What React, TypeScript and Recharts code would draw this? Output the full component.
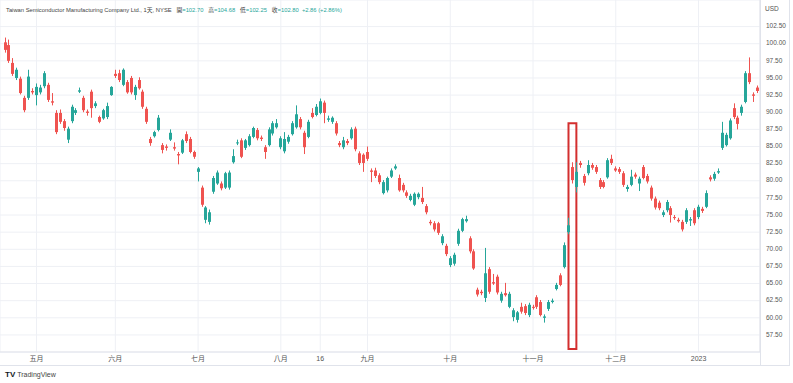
import React from "react";
import { ComposedChart, Bar, XAxis, YAxis, CartesianGrid, ReferenceArea } from "recharts";

// daily candles, TSM NYSE, approx. Apr 2022 - Jan 2023
const OPEN = [
  100.2, 99.8, 97.2, 95.0, 94.9, 92.1, 92.1, 93.1, 92.5, 92.9,
  93.8, 94.0, 91.6, 89.9, 89.9, 88.7, 86.0, 88.7, 89.9, 93.0,
  92.1, 90.1, 93.0, 90.9, 89.3, 89.1, 89.3, 92.5, 95.6, 95.7,
  94.0, 94.4, 95.0, 92.5, 94.7, 93.0, 90.5, 86.1, 86.5, 87.4,
  85.2, 85.0, 86.0, 84.9, 83.9, 84.1, 86.8, 86.1, 84.2, 81.3,
  79.0, 74.3, 74.0, 78.4, 79.6, 79.6, 79.0, 79.0, 82.7, 85.5,
  85.9, 84.8, 85.2, 86.4, 87.4, 86.3, 84.9, 85.2, 86.9, 87.8,
  84.9, 84.3, 85.7, 86.8, 87.8, 89.0, 87.0, 86.4, 89.9, 89.6,
  89.9, 91.4, 88.9, 88.6, 88.4, 85.5, 84.9, 85.8, 86.2, 87.6,
  84.0, 83.8, 84.2, 81.5, 81.5, 80.8, 78.2, 78.6, 80.6, 81.8,
  80.4, 79.4, 78.3, 77.2, 76.5, 77.6, 77.5, 76.3, 74.0, 73.8,
  73.8, 70.9, 70.5, 67.7, 67.9, 70.8, 72.7, 74.1, 71.6, 69.7,
  64.1, 63.8, 62.9, 67.1, 65.2, 66.0, 62.5, 63.6, 61.6, 60.1,
  59.7, 61.6, 61.7, 60.4, 61.6, 63.0, 62.3, 60.0, 61.3, 62.3,
  64.2, 66.2, 67.4, 72.5, 82.0, 79.1, 82.6, 80.7, 81.1, 82.3,
  82.0, 80.1, 79.8, 80.5, 83.2, 81.8, 81.7, 81.1, 78.8, 79.4,
  80.9, 79.6, 82.0, 80.7, 79.0, 77.4, 76.8, 75.0, 75.7, 76.0,
  74.7, 74.3, 74.0, 74.0, 74.2, 75.7, 74.7, 75.9, 76.2, 80.5,
  80.3, 81.2, 84.8, 85.2, 86.2, 90.6, 89.2, 89.9, 91.5, 95.7,
  92.6, 93.6,
];

const HIGH = [
  100.9, 100.6, 97.9, 96.5, 95.2, 92.4, 96.2, 93.5, 94.2, 94.0,
  96.0, 94.3, 92.8, 90.3, 90.4, 89.0, 87.9, 91.1, 90.6, 93.6,
  92.4, 90.4, 93.3, 91.6, 89.5, 90.5, 91.4, 93.8, 96.2, 96.2,
  96.4, 94.7, 95.3, 94.0, 95.1, 93.3, 90.8, 86.4, 87.3, 89.6,
  85.5, 85.3, 87.5, 85.6, 84.2, 86.1, 87.2, 86.4, 84.4, 82.0,
  79.3, 76.3, 75.8, 80.7, 81.5, 79.9, 81.3, 81.5, 84.6, 86.0,
  86.2, 86.1, 86.8, 87.9, 87.7, 86.6, 85.2, 87.8, 88.7, 89.0,
  86.5, 87.1, 86.7, 88.7, 91.0, 89.3, 87.3, 88.9, 90.6, 91.2,
  92.0, 91.7, 89.5, 89.4, 88.7, 85.8, 86.4, 86.1, 87.8, 87.9,
  84.3, 84.0, 85.0, 81.8, 81.9, 81.1, 80.1, 80.6, 81.8, 82.4,
  80.9, 79.7, 78.6, 78.1, 78.3, 78.3, 79.1, 76.6, 74.3, 74.1,
  74.0, 72.2, 70.8, 69.0, 69.5, 73.0, 74.6, 74.9, 71.9, 70.0,
  64.4, 64.1, 70.2, 67.4, 66.4, 66.3, 63.8, 65.1, 63.8, 61.4,
  61.0, 62.2, 62.0, 62.2, 61.9, 63.3, 62.6, 60.5, 62.6, 62.8,
  65.1, 66.5, 71.0, 74.6, 82.7, 82.7, 82.9, 81.0, 83.0, 82.6,
  82.3, 80.4, 80.1, 83.3, 83.8, 82.1, 82.0, 81.4, 79.4, 81.6,
  81.2, 80.6, 82.3, 81.0, 79.3, 77.7, 77.1, 75.7, 77.2, 76.3,
  75.0, 74.6, 74.3, 76.0, 74.7, 76.0, 76.5, 76.2, 78.6, 80.8,
  81.3, 81.8, 88.6, 87.0, 89.1, 91.3, 89.5, 91.1, 96.0, 98.0,
  92.9, 93.9,
];

const LOW = [
  98.7, 97.2, 95.3, 94.7, 92.6, 90.0, 91.8, 92.6, 91.0, 92.6,
  93.5, 91.5, 91.0, 86.8, 88.3, 87.3, 85.5, 88.4, 89.6, 92.8,
  90.0, 89.5, 89.2, 90.6, 88.4, 88.9, 89.0, 92.4, 95.0, 94.4,
  93.8, 92.7, 92.6, 91.8, 93.3, 90.5, 88.3, 85.1, 86.3, 87.2,
  84.0, 84.4, 85.8, 84.4, 82.4, 83.9, 85.5, 84.0, 83.2, 79.9,
  76.2, 73.8, 73.6, 78.1, 79.4, 78.6, 78.8, 78.7, 82.5, 85.2,
  83.3, 84.5, 85.0, 86.2, 85.9, 85.8, 83.2, 85.0, 86.6, 87.6,
  84.6, 84.0, 85.4, 86.6, 87.6, 87.5, 83.9, 86.2, 89.1, 89.4,
  89.7, 88.4, 88.6, 88.3, 86.6, 84.9, 84.6, 85.2, 86.0, 84.3,
  82.3, 81.3, 82.9, 79.8, 80.4, 79.5, 78.0, 78.3, 80.4, 81.6,
  78.4, 78.3, 77.5, 77.0, 76.3, 77.3, 76.6, 75.1, 73.5, 72.6,
  72.1, 70.6, 69.0, 67.4, 67.6, 70.5, 72.5, 73.9, 69.4, 67.0,
  63.1, 63.3, 62.3, 63.5, 64.8, 63.4, 62.2, 63.1, 61.4, 59.5,
  59.3, 60.6, 60.4, 60.1, 61.2, 61.3, 60.2, 59.3, 61.0, 62.1,
  64.0, 64.6, 67.2, 72.2, 79.6, 78.3, 81.9, 79.3, 80.8, 81.6,
  81.0, 78.8, 78.9, 80.3, 82.3, 81.3, 81.0, 79.1, 78.4, 79.2,
  80.3, 78.5, 80.2, 79.6, 77.1, 75.8, 75.7, 74.7, 75.4, 73.9,
  74.3, 73.9, 72.6, 73.7, 73.4, 73.5, 74.4, 75.3, 76.0, 79.9,
  80.0, 81.0, 84.5, 85.0, 86.0, 89.0, 87.5, 89.5, 91.3, 94.1,
  91.5, 92.8,
];

const CLOSE = [
  99.1, 97.5, 95.6, 96.2, 92.8, 90.3, 95.2, 92.9, 93.7, 93.6,
  95.7, 91.8, 91.4, 87.1, 88.6, 87.7, 87.6, 90.8, 90.3, 93.2,
  90.3, 89.9, 90.6, 91.3, 88.6, 90.3, 90.9, 93.7, 95.3, 94.7,
  96.2, 92.9, 92.9, 93.7, 93.5, 90.8, 88.6, 85.5, 87.1, 89.2,
  84.5, 84.8, 87.0, 84.7, 83.7, 85.9, 85.8, 84.2, 83.5, 81.8,
  76.5, 76.1, 75.4, 80.4, 81.2, 78.9, 81.1, 81.2, 83.6, 85.6,
  83.5, 85.9, 86.5, 87.7, 86.2, 86.1, 84.2, 87.5, 88.4, 88.4,
  86.2, 86.1, 86.4, 88.4, 89.7, 87.8, 84.9, 88.6, 89.3, 90.8,
  91.6, 89.9, 89.1, 89.2, 86.9, 85.2, 85.9, 85.5, 87.5, 84.6,
  82.6, 82.6, 83.2, 81.3, 80.7, 79.8, 79.8, 80.4, 81.5, 82.1,
  78.6, 78.6, 77.8, 77.8, 78.1, 78.1, 76.9, 75.4, 73.8, 72.9,
  72.4, 71.9, 69.3, 68.7, 69.2, 72.7, 74.4, 74.4, 69.7, 67.2,
  63.4, 63.6, 66.5, 63.8, 65.0, 63.7, 63.5, 63.3, 63.5, 61.1,
  60.8, 60.9, 60.7, 61.9, 61.5, 61.6, 60.4, 60.2, 62.3, 62.5,
  64.8, 64.8, 70.6, 73.5, 80.1, 81.3, 82.3, 79.7, 82.3, 81.9,
  81.3, 79.1, 79.1, 83.0, 82.6, 81.5, 81.3, 79.4, 79.1, 80.6,
  80.6, 80.3, 80.4, 79.9, 77.4, 76.1, 76.0, 75.4, 76.9, 75.0,
  74.6, 74.1, 72.9, 75.7, 74.4, 73.8, 76.2, 75.6, 78.2, 80.2,
  81.0, 81.4, 87.0, 86.7, 88.8, 89.3, 88.3, 90.8, 95.7, 94.4,
  92.4, 93.1,
];

// x-axis labels sit on the first session of each month (bar index)
const MONTH_TICKS = [8, 28, 49, 70, 80, 92, 113, 134, 155, 176];
const MONTH_LABELS = ["五月", "六月", "七月", "八月", "16", "九月", "十月", "十一月", "十二月", "2023"];

const PRICE_TICKS = [
  57.5, 60, 62.5, 65, 67.5, 70, 72.5, 75, 77.5, 80,
  82.5, 85, 87.5, 90, 92.5, 95, 97.5, 100, 102.5,
];

const HIGHLIGHT_BAR = 144; // 2022-11-15 gap up

const UP = "#26a69a";
const DOWN = "#ef5350";
const GRID = "#eef0f5";
const BORDER = "#e0e3eb";
const FONT = "'Liberation Sans', 'Noto Sans CJK TC', sans-serif";

const data = OPEN.map((open, i) => ({
  i,
  open,
  high: HIGH[i],
  low: LOW[i],
  close: CLOSE[i],
}));

const Candle = (props: any) => {
  const { x, y, width, height, payload } = props;
  if (!payload || height == null) return null;
  const { open, close, high, low } = payload;
  const color = close >= open ? UP : DOWN;
  const ratio = height / (high - low);
  const cx = Math.round(x + width / 2) + 0.5;
  const top = y + (high - Math.max(open, close)) * ratio;
  const bottom = y + (high - Math.min(open, close)) * ratio;
  return (
    <g>
      <line x1={cx} x2={cx} y1={y} y2={y + height} stroke={color} strokeWidth={1} />
      <rect x={cx - 1.5} y={top} width={3} height={Math.max(1, bottom - top)} fill={color} />
    </g>
  );
};

const MonthTick = (props: any) => {
  const { x, payload } = props;
  const idx = MONTH_TICKS.indexOf(payload.value);
  return (
    <text x={x} y={359} textAnchor="middle" dominantBaseline="middle" fontSize={7} fill="#555" fontFamily={FONT}>
      {MONTH_LABELS[idx]}
    </text>
  );
};

const PriceTick = (props: any) => {
  const { y, payload } = props;
  return (
    <text x={766} y={y} textAnchor="start" dominantBaseline="middle" fontSize={6.5} fill="#555" fontFamily={FONT}>
      {Number(payload.value).toFixed(2)}
    </text>
  );
};

export default function App() {
  return (
    <div
      style={{
        position: "absolute",
        left: 0,
        top: 0,
        width: 793,
        height: 383,
        background: "#fff",
        fontFamily: FONT,
        overflow: "hidden",
      }}
    >
      <ComposedChart width={793} height={365} data={data} margin={{ top: 0, right: 0, bottom: 0, left: 0 }}>
        <CartesianGrid stroke={GRID} />
        <XAxis
          type="number"
          dataKey="i"
          domain={[-1.27, 191.6]}
          allowDataOverflow
          ticks={MONTH_TICKS}
          interval={0}
          tick={<MonthTick />}
          tickLine={false}
          axisLine={{ stroke: BORDER }}
          height={13}
        />
        <YAxis
          orientation="right"
          domain={[55.01, 106.38]}
          allowDataOverflow
          ticks={PRICE_TICKS}
          interval={0}
          tick={<PriceTick />}
          tickLine={false}
          axisLine={{ stroke: BORDER }}
          width={33}
        />
        <Bar
          dataKey={(d: any) => [d.low, d.high]}
          shape={<Candle />}
          barSize={3}
          isAnimationActive={false}
        />
        <ReferenceArea
          x1={HIGHLIGHT_BAR - 1}
          x2={HIGHLIGHT_BAR + 1}
          y1={55.45}
          y2={88.4}
          fill="none"
          stroke="#d32f2f"
          strokeWidth={2}
          ifOverflow="visible"
        />
      </ComposedChart>

      {/* frame of the price / time scales */}
      <div style={{ position: "absolute", left: 760, top: 0, width: 1, height: 365, background: BORDER }} />
      <div style={{ position: "absolute", left: 0, top: 365, width: 789, height: 1, background: BORDER }} />
      <div style={{ position: "absolute", left: 789, top: 0, width: 1, height: 366, background: BORDER }} />

      <div style={{ position: "absolute", left: 765, top: 5, fontSize: 6.5, color: "#555" }}>USD</div>

      <div style={{ position: "absolute", left: 6, top: 5, fontSize: 5.8, color: "#444", whiteSpace: "nowrap" }}>
        Taiwan Semiconductor Manufacturing Company Ltd., 1天, NYSE&nbsp;&nbsp;
        開<span style={{ color: UP }}>=102.70</span>&nbsp;&nbsp;
        高<span style={{ color: UP }}>=104.68</span>&nbsp;&nbsp;
        低<span style={{ color: UP }}>=102.25</span>&nbsp;&nbsp;
        收<span style={{ color: UP }}>=102.80&nbsp;&nbsp;+2.86 (+2.86%)</span>
      </div>

      <div style={{ position: "absolute", left: 5, top: 370, fontSize: 7, color: "#444", whiteSpace: "nowrap" }}>
        <span style={{ fontWeight: 900, fontSize: 8, color: "#131722", marginRight: 2 }}>TV</span>
        TradingView
      </div>
    </div>
  );
}
